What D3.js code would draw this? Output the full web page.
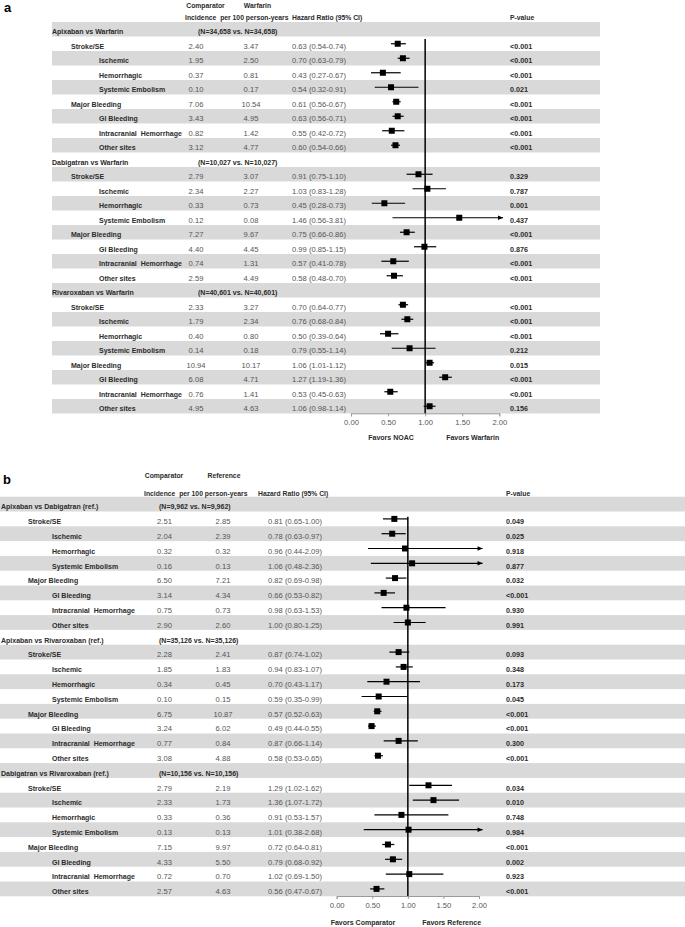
<!DOCTYPE html>
<html><head><meta charset="utf-8">
<script src="https://cdn.jsdelivr.net/npm/d3@7"></script>
<style>body{margin:0;background:#fff}svg{display:block}</style>
</head><body>
<script>
// ---------- DATA ----------
const outcomes = ["Stroke/SE","Ischemic","Hemorrhagic","Systemic Embolism","Major Bleeding","GI Bleeding","Intracranial  Hemorrhage","Other sites"];
const outcomeLevel = [1,2,2,2,1,2,2,2];
const ticks = [0,0.5,1,1.5,2];

const panelA_sections = ["Apixaban vs Warfarin","Dabigatran vs Warfarin","Rivaroxaban vs Warfarin"];
const panelA_N = ["(N=34,658 vs. N=34,658)","(N=10,027 vs. N=10,027)","(N=40,601 vs. N=40,601)"];
const panelA_comp = [["2.40","1.95","0.37","0.10","7.06","3.43","0.82","3.12"],["2.79","2.34","0.33","0.12","7.27","4.40","0.74","2.59"],["2.33","1.79","0.40","0.14","10.94","6.08","0.76","4.95"]];
const panelA_ref = [["3.47","2.50","0.81","0.17","10.54","4.95","1.42","4.77"],["3.07","2.27","0.73","0.08","9.67","4.45","1.31","4.49"],["3.27","2.34","0.80","0.18","10.17","4.71","1.41","4.63"]];
const panelA_hr = [[0.63,0.70,0.43,0.54,0.61,0.63,0.55,0.60],[0.91,1.03,0.45,1.46,0.75,0.99,0.57,0.58],[0.70,0.76,0.50,0.79,1.06,1.27,0.53,1.06]];
const panelA_lo = [[0.54,0.63,0.27,0.32,0.56,0.56,0.42,0.54],[0.75,0.83,0.28,0.56,0.66,0.85,0.41,0.48],[0.64,0.68,0.39,0.55,1.01,1.19,0.45,0.98]];
const panelA_hi = [[0.74,0.79,0.67,0.91,0.67,0.71,0.72,0.66],[1.10,1.28,0.73,3.81,0.86,1.15,0.78,0.70],[0.77,0.84,0.64,1.14,1.12,1.36,0.63,1.14]];
const panelA_p = [["<0.001","<0.001","<0.001","0.021","<0.001","<0.001","<0.001","<0.001"],["0.329","0.787","0.001","0.437","<0.001","0.876","<0.001","<0.001"],["<0.001","<0.001","<0.001","0.212","0.015","<0.001","<0.001","0.156"]];
const panelA_heads = ["Comparator","Warfarin"];
const panelA_favors = ["Favors NOAC","Favors Warfarin"];

const panelB_sections = ["Apixaban vs Dabigatran (ref.)","Apixaban vs Rivaroxaban (ref.)","Dabigatran vs Rivaroxaban (ref.)"];
const panelB_N = ["(N=9,962 vs. N=9,962)","(N=35,126 vs. N=35,126)","(N=10,156 vs. N=10,156)"];
const panelB_comp = [["2.51","2.04","0.32","0.16","6.50","3.14","0.75","2.90"],["2.28","1.85","0.34","0.10","6.75","3.24","0.77","3.08"],["2.79","2.33","0.33","0.13","7.15","4.33","0.72","2.57"]];
const panelB_ref = [["2.85","2.39","0.32","0.13","7.21","4.34","0.73","2.60"],["2.41","1.83","0.45","0.15","10.87","6.02","0.84","4.88"],["2.19","1.73","0.36","0.13","9.97","5.50","0.70","4.63"]];
const panelB_hr = [[0.81,0.78,0.96,1.06,0.82,0.66,0.98,1.00],[0.87,0.94,0.70,0.59,0.57,0.49,0.87,0.58],[1.29,1.36,0.91,1.01,0.72,0.79,1.02,0.56]];
const panelB_lo = [[0.65,0.63,0.44,0.48,0.69,0.53,0.63,0.80],[0.74,0.83,0.43,0.35,0.52,0.44,0.66,0.53],[1.02,1.07,0.53,0.38,0.64,0.68,0.69,0.47]];
const panelB_hi = [[1.00,0.97,2.09,2.36,0.98,0.82,1.53,1.25],[1.02,1.07,1.17,0.99,0.63,0.55,1.14,0.65],[1.62,1.72,1.57,2.68,0.81,0.92,1.50,0.67]];
const panelB_p = [["0.049","0.025","0.918","0.877","0.032","<0.001","0.930","0.991"],["0.093","0.348","0.173","0.045","<0.001","<0.001","0.300","<0.001"],["0.034","0.010","0.748","0.984","<0.001","0.002","0.923","<0.001"]];
const panelB_heads = ["Comparator","Reference"];
const panelB_favors = ["Favors Comparator","Favors Reference"];

// ---------- DRAW ----------
const W = 685, H = 927;
const FONT = "'Liberation Sans', Arial, sans-serif";
const DARK = "#2b2b2b", NUM = "#555", BAND = "#d9d9d9";
const svg = d3.select("body").append("svg").attr("width", W).attr("height", H)
  .style("font-family", FONT);

const panels = [
  {letter:"a", letterX:4, letterY:12, sections:panelA_sections, N:panelA_N, comp:panelA_comp, ref:panelA_ref,
   hr:panelA_hr, lo:panelA_lo, hi:panelA_hi, p:panelA_p, heads:panelA_heads, favors:panelA_favors,
   L:{bandX0:52, bandX1:600, top:22, step:14.5, xHead:52, xL1:71, xL2:99, xComp:196, xRef:251, xN:198, xHR:292, xP:510,
      head1Y:8, head2Y:20, hComp:205.5, hRef:257.5, xInc:185, xHRh:292,
      x0:351, x2:499.3, lineTop:39, axisY:413.3, tickY:425.5, favY:440, fav1:391, fav2:472.7}},
  {letter:"b", letterX:3, letterY:484, sections:panelB_sections, N:panelB_N, comp:panelB_comp, ref:panelB_ref,
   hr:panelB_hr, lo:panelB_lo, hi:panelB_hi, p:panelB_p, heads:panelB_heads, favors:panelB_favors,
   L:{bandX0:0, bandX1:685, top:496.7, step:14.8, xHead:1, xL1:28, xL2:52, xComp:164.5, xRef:223, xN:159, xHR:268, xP:506,
      head1Y:478, head2Y:496, hComp:164, hRef:224, xInc:144, xHRh:258,
      x0:336.7, x2:479, lineTop:516.7, axisY:896, tickY:909, favY:925, fav1:363, fav2:451.7}}
];

panels.forEach(P => {
  const L = P.L;
  const g = svg.append("g");
  // build rows
  const rows = [];
  P.sections.forEach((s, si) => {
    rows.push({type:"head", label:s, N:P.N[si]});
    outcomes.forEach((o, oi) => rows.push({type:"row", label:o, level:outcomeLevel[oi],
      comp:P.comp[si][oi], ref:P.ref[si][oi], hr:P.hr[si][oi], lo:P.lo[si][oi], hi:P.hi[si][oi], p:P.p[si][oi]}));
  });
  const y = d3.scaleLinear().domain([0, 1]).range([L.top, L.top + L.step]);
  const x = d3.scaleLinear().domain([0, 2]).range([L.x0, L.x2]);

  // bands
  g.selectAll("rect.band").data(rows.filter((r,i)=>i%2===0).map((r,k)=>k*2)).enter().append("rect")
    .attr("x", L.bandX0).attr("width", L.bandX1 - L.bandX0)
    .attr("y", d => y(d)).attr("height", L.step).attr("fill", BAND);

  // panel letter
  g.append("text").attr("x", P.letterX).attr("y", P.letterY).text(P.letter)
    .attr("font-size", 13).attr("font-weight", "bold").attr("fill", "#000");

  // column headers
  const hb = {"font-size":6.8, "font-weight":"bold", fill:DARK};
  const addT = (tx, ty, str, attrs, anchor) => {
    const t = g.append("text").attr("x", tx).attr("y", ty).text(str).attr("text-anchor", anchor || "start");
    Object.entries(attrs).forEach(([k,v]) => t.attr(k, v));
    t.style("white-space","pre");
    return t;
  };
  addT(L.hComp, L.head1Y, P.heads[0], hb, "middle");
  addT(L.hRef, L.head1Y, P.heads[1], hb, "middle");
  addT(L.xInc, L.head2Y, "Incidence  per 100 person-years", hb);
  addT(L.xHRh, L.head2Y, "Hazard Ratio (95% CI)", hb);
  addT(L.xP, L.head2Y, "P-value", hb);

  const lb = {"font-size":7, "font-weight":"bold", fill:DARK};
  const nm = {"font-size":7.6, fill:NUM};
  const pv = {"font-size":7.2, "font-weight":"bold", fill:DARK};
  rows.forEach((r, i) => {
    const by = y(i) + L.step * 0.86;
    if (r.type === "head") {
      addT(L.xHead, by, r.label, lb);
      addT(L.xN, by, r.N, lb);
    } else {
      addT(r.level === 1 ? L.xL1 : L.xL2, by, r.label, lb);
      addT(L.xComp, by, r.comp, nm, "middle");
      addT(L.xRef, by, r.ref, nm, "middle");
      addT(L.xHR, by, `${r.hr.toFixed(2)} (${r.lo.toFixed(2)}-${r.hi.toFixed(2)})`, nm);
      addT(L.xP, by, r.p, pv);
    }
  });

  // axis
  const axis = d3.axisBottom(x).tickValues(ticks).tickFormat(d3.format(".2f")).tickSize(3).tickPadding(4);
  const ag = g.append("g").attr("transform", `translate(0,${L.axisY})`).call(axis);
  ag.select(".domain").attr("stroke", "#9a9a9a");
  ag.selectAll(".tick line").attr("stroke", "#9a9a9a");
  ag.selectAll(".tick text").attr("font-size", 7.6).attr("fill", NUM).attr("font-family", FONT).attr("dy", "0.6em");

  // reference line
  g.append("line").attr("x1", x(1)).attr("x2", x(1)).attr("y1", L.lineTop).attr("y2", L.axisY)
    .attr("stroke", "#000").attr("stroke-width", 1.5);

  // CI lines and markers
  const cap = 2.05;
  const dataRows = rows.map((r,i)=>({...r, i})).filter(r => r.type === "row");
  dataRows.forEach(r => {
    const cy = y(r.i) + L.step / 2;
    const hiV = Math.min(r.hi, cap);
    g.append("line").attr("x1", x(r.lo)).attr("x2", x(hiV)).attr("y1", cy).attr("y2", cy)
      .attr("stroke", "#000").attr("stroke-width", 1.2);
    if (r.hi > cap) {
      const tx = x(cap);
      g.append("path").attr("d", `M${tx},${cy} L${tx-5},${cy-2.3} L${tx-5},${cy+2.3} Z`).attr("fill", "#000");
    }
    g.append("rect").attr("x", x(r.hr) - 3).attr("y", cy - 3).attr("width", 6).attr("height", 6).attr("fill", "#000");
  });

  // favors labels
  const fv = {"font-size":7, "font-weight":"bold", fill:DARK};
  addT(L.fav1, L.favY, P.favors[0], fv, "middle");
  addT(L.fav2, L.favY, P.favors[1], fv, "middle");
});
</script>
</body></html>
